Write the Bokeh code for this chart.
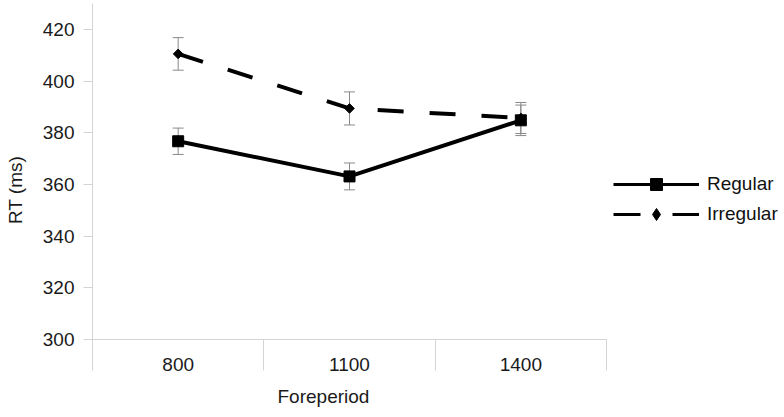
import math
from bokeh.plotting import figure
from bokeh.models import (Range1d, FixedTicker, ColumnDataSource, Whisker, TeeHead,
                          Legend, LegendItem, Title)
from bokeh.embed import file_html
from bokeh.resources import INLINE

# ---- data ----
categories = ["800", "1100", "1400"]
x_pos = [0, 1, 2]
separators = [-0.5, 0.5, 1.5, 2.5]
regular = [376.7, 363.1, 384.8]
regular_err = [5.1, 5.2, 5.9]
irregular = [410.5, 389.4, 385.7]
irregular_err = [6.3, 6.4, 6.0]
y_ticks = [300, 320, 340, 360, 380, 400, 420]
series_names = ["Regular", "Irregular"]

FONT = "Liberation Sans"
AXIS_GRAY = "#d4d4d4"
ERR_GRAY = "#8a8a8a"
TXT = "#1a1a1a"
NB = "\u00a0"

# frame spans to the right edge so the legend can sit inside it;
# category width 514/3 px -> right end of the range
p = figure(width=784, height=417, output_backend="svg", toolbar_location=None,
           x_range=Range1d(-0.5, -0.5 + 692 / (514 / 3)), y_range=Range1d(300, 430),
           min_border_left=92, min_border_right=0, min_border_top=3,
           min_border_bottom=78)
# a range that keeps the legend-sample renderers out of sight
p.extra_x_ranges = {"legend_only": Range1d(100, 101)}
p.outline_line_color = None
p.xgrid.visible = False
p.ygrid.visible = False
p.background_fill_color = "white"
p.border_fill_color = "white"

# y axis
ya = p.yaxis[0]
ya.ticker = FixedTicker(ticks=y_ticks)
ya.axis_line_color = AXIS_GRAY
ya.major_tick_line_color = AXIS_GRAY
ya.major_tick_out = 9
ya.major_tick_in = 0
ya.minor_tick_line_color = None
ya.major_label_text_font = FONT
ya.major_label_text_font_size = "19px"
ya.major_label_text_color = TXT
ya.major_label_standoff = 9
ya.axis_label = "RT (ms)" + NB * 7
ya.axis_label_text_font = FONT
ya.axis_label_text_font_size = "19px"
ya.axis_label_text_font_style = "normal"
ya.axis_label_text_color = TXT
ya.axis_label_standoff = 14

# x axis: labels at category centres, separators as minor ticks
xa = p.xaxis[0]
xa.bounds = (separators[0], separators[-1])
xa.ticker = FixedTicker(ticks=x_pos, minor_ticks=separators)
xa.major_label_overrides = {x: c for x, c in zip(x_pos, categories)}
xa.axis_line_color = AXIS_GRAY
xa.major_tick_line_color = None
xa.major_tick_out = 0
xa.major_tick_in = 0
xa.minor_tick_line_color = AXIS_GRAY
xa.minor_tick_out = 31
xa.minor_tick_in = 0
xa.major_label_text_font = FONT
xa.major_label_text_font_size = "19px"
xa.major_label_text_color = TXT
xa.major_label_standoff = -13

p.add_layout(Title(text="Foreperiod", align="left", offset=185, standoff=21,
                   text_font=FONT, text_font_size="19px", text_font_style="normal",
                   text_color=TXT), "below")

# error bars
src_r = ColumnDataSource(dict(x=x_pos, y=regular,
                              upper=[v + e for v, e in zip(regular, regular_err)],
                              lower=[v - e for v, e in zip(regular, regular_err)]))
src_i = ColumnDataSource(dict(x=x_pos, y=irregular,
                              upper=[v + e for v, e in zip(irregular, irregular_err)],
                              lower=[v - e for v, e in zip(irregular, irregular_err)]))
for src in (src_i, src_r):
    w = Whisker(source=src, base="x", upper="upper", lower="lower",
                line_color=ERR_GRAY, line_width=1, level="underlay",
                upper_head=TeeHead(size=11, line_color=ERR_GRAY, line_width=1),
                lower_head=TeeHead(size=11, line_color=ERR_GRAY, line_width=1))
    p.add_layout(w)

# series
p.line("x", "y", source=src_i, line_color="black", line_width=4, line_dash="26 26")
p.scatter("x", "y", source=src_i, marker="square", angle=math.pi / 4, size=6.8,
          fill_color="black", line_color="black")
p.line("x", "y", source=src_r, line_color="black", line_width=4)
p.scatter("x", "y", source=src_r, marker="square", size=11,
          fill_color="black", line_color="black")

# legend sample renderers (same data, drawn on an off-screen range)
lr_line = p.line("x", "y", source=src_r, x_range_name="legend_only",
                 line_color="black", line_width=3)
lr_mark = p.scatter("x", "y", source=src_r, x_range_name="legend_only", marker="square",
                    size=12, fill_color="black", line_color="black")
li_line = p.line("x", "y", source=src_i, x_range_name="legend_only",
                 line_color="black", line_width=3, line_dash="27 32")
li_mark = p.scatter("x", "y", source=src_i, x_range_name="legend_only", marker="diamond",
                    angle=math.pi / 2, size=12, fill_color="black", line_color="black")

legend = Legend(items=[LegendItem(label=series_names[0], renderers=[lr_line, lr_mark]),
                       LegendItem(label=series_names[1], renderers=[li_line, li_mark])],
                location=(521, 110), glyph_width=86, glyph_height=30, label_height=30,
                spacing=0, padding=0, margin=0, label_standoff=8,
                label_text_font=FONT, label_text_font_size="19px", label_text_color="#111111",
                background_fill_alpha=0, border_line_alpha=0)
p.add_layout(legend)

open("out.html", "w").write(file_html(p, INLINE))
